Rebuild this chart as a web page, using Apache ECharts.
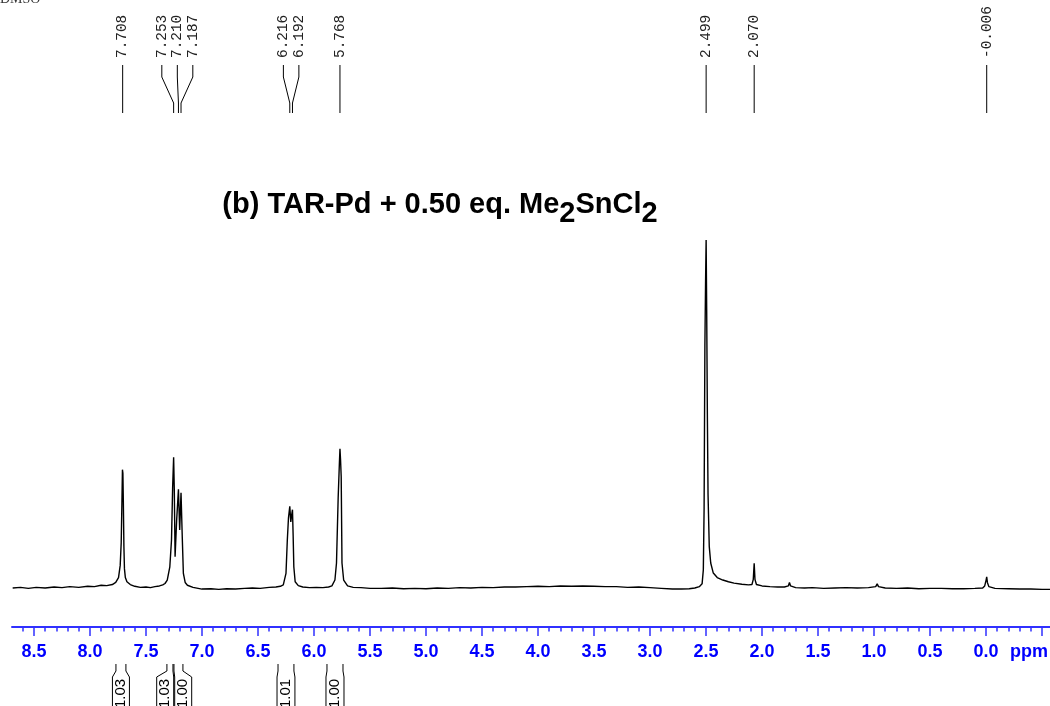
<!DOCTYPE html>
<html>
<head>
<meta charset="utf-8">
<script src="https://cdn.jsdelivr.net/npm/echarts@6/dist/echarts.min.js"></script>
<style>
  html, body { margin: 0; padding: 0; background: #fff; }
  #chart { width: 1050px; height: 706px; }
</style>
</head>
<body>
<div id="chart"></div>
<script>
// 1H NMR spectrum in DMSO-d6: TAR-Pd + 0.50 eq. Me2SnCl2
// Spectrum trace as [chemical shift (ppm), relative intensity (% of tallest line)]
const spectrum = [
  [8.69, 0.0], [8.62, 0.2], [8.55, -0.1], [8.48, 0.2], [8.40, 0.0], [8.32, 0.3], [8.25, 0.1],
  [8.18, 0.4], [8.10, 0.2], [8.02, 0.5], [7.96, 0.4], [7.90, 0.8], [7.85, 0.7], [7.80, 1.0],
  [7.77, 1.6], [7.745, 3.0], [7.730, 6.5], [7.721, 13], [7.715, 24], [7.710, 34], [7.706, 33],
  [7.702, 25], [7.697, 12], [7.692, 5.5], [7.684, 3.0], [7.67, 1.8], [7.64, 1.0],
  [7.60, 0.5], [7.55, 0.2], [7.50, 0.3], [7.46, 0.1], [7.42, 0.4], [7.38, 0.6], [7.35, 0.9], [7.33, 1.3],
  [7.31, 2.3], [7.287, 6.1], [7.272, 13.8], [7.262, 28.7], [7.253, 37.6], [7.247, 28], [7.240, 9.0],
  [7.226, 19.5], [7.210, 28.4], [7.199, 16.7], [7.187, 27.4], [7.176, 14.7], [7.166, 4.2],
  [7.15, 1.6], [7.13, 0.8],
  [7.08, 0.2], [7.00, -0.3], [6.92, -0.2], [6.85, -0.4], [6.78, -0.2], [6.70, -0.3], [6.62, -0.1],
  [6.55, 0.0], [6.48, -0.1], [6.40, 0.2], [6.34, 0.3],
  [6.30, 0.5], [6.274, 0.9], [6.25, 4.2], [6.238, 13.8], [6.228, 20], [6.216, 23.5], [6.207, 19],
  [6.199, 21], [6.192, 22.5], [6.186, 15], [6.180, 6.1], [6.168, 1.8], [6.14, 0.7],
  [6.10, 0.3], [6.04, 0.1], [5.98, 0.2], [5.92, 0.1], [5.87, 0.3],
  [5.84, 0.6], [5.813, 2.3], [5.799, 7.2], [5.784, 26], [5.773, 36], [5.768, 40], [5.763, 37],
  [5.757, 32], [5.750, 7.2], [5.735, 2.3], [5.70, 0.6], [5.65, 0.2],
  [5.58, 0.1], [5.50, -0.1], [5.40, -0.1], [5.30, 0.0], [5.20, -0.2], [5.10, -0.1], [5.00, -0.2],
  [4.90, 0.0], [4.80, -0.1], [4.70, 0.1], [4.60, 0.0], [4.50, 0.2], [4.40, 0.1], [4.30, 0.3],
  [4.20, 0.3], [4.10, 0.4], [4.00, 0.5], [3.90, 0.4], [3.80, 0.6], [3.70, 0.5], [3.60, 0.6],
  [3.50, 0.5], [3.40, 0.4], [3.30, 0.4], [3.20, 0.2], [3.10, 0.3], [3.00, 0.1], [2.90, -0.1],
  [2.80, -0.3], [2.72, -0.3], [2.65, -0.2], [2.60, 0.0],
  [2.56, 0.4], [2.535, 1.2], [2.524, 5.2], [2.517, 23], [2.510, 70], [2.504, 88], [2.499, 100],
  [2.494, 80], [2.488, 50], [2.482, 27], [2.471, 11.9], [2.458, 7.2], [2.435, 4.3], [2.40, 3.0],
  [2.35, 2.3], [2.30, 1.8], [2.25, 1.4], [2.18, 1.1], [2.12, 0.9],
  [2.09, 1.0], [2.078, 2.5], [2.070, 7.1], [2.063, 2.5], [2.05, 1.0], [2.00, 0.6], [1.93, 0.4],
  [1.86, 0.3], [1.80, 0.3],
  [1.765, 0.6], [1.755, 1.6], [1.745, 0.6], [1.70, 0.1], [1.62, 0.0], [1.55, 0.1], [1.45, -0.1],
  [1.35, 0.0], [1.25, 0.1], [1.15, 0.0], [1.05, 0.1],
  [0.985, 0.4], [0.972, 1.2], [0.96, 0.4], [0.90, 0.0], [0.80, -0.1], [0.70, 0.0], [0.60, -0.2],
  [0.50, -0.1], [0.40, -0.1], [0.30, -0.2], [0.20, -0.2], [0.10, -0.1], [0.03, 0.0],
  [0.012, 0.6], [0.000, 2.2], [-0.006, 3.2], [-0.012, 1.6], [-0.025, 0.4], [-0.08, -0.1],
  [-0.20, -0.2], [-0.30, -0.3], [-0.40, -0.3], [-0.50, -0.4], [-0.571, -0.4]
];

// Peak picking (ppm)
const peakShifts = [7.708, 7.253, 7.210, 7.187, 6.216, 6.192, 5.768, 2.499, 2.070, -0.006];

// Integration regions (ppm) and normalised integrals
const integralFrom = [7.768, 7.313, 7.250, 6.321, 5.884];
const integralTo = [7.679, 7.259, 7.170, 6.179, 5.741];
const integralValues = [1.03, 1.03, 1.00, 1.01, 1.00];

// Shift axis labels
const tickLabels = ['8.5', '8.0', '7.5', '7.0', '6.5', '6.0', '5.5', '5.0', '4.5', '4.0',
                    '3.5', '3.0', '2.5', '2.0', '1.5', '1.0', '0.5', '0.0'];

const AXIS_BLUE = '#3030ff';
const LABEL_BLUE = '#0000ff';
const X_MIN = -0.571, X_MAX = 8.696;

const majorTicks = [];
for (let k = -1; k <= 17; k++) majorTicks.push(k / 2);
const minorTicks = [];
for (let k = -5; k <= 86; k++) minorTicks.push(k / 10);

// Spread labels of closely spaced peaks around their cluster centre
const LABEL_GAP = 15.5;
function peakLabelXs(api) {
  const px = peakShifts.map(s => api.coord([s, 0])[0]);
  const xs = px.slice();
  let i = 0;
  while (i < px.length) {
    let j = i;
    while (j + 1 < px.length && Math.abs(px[j + 1] - px[j]) < LABEL_GAP) j++;
    const n = j - i + 1;
    const centre = (px[i] + px[j]) / 2;
    for (let k = i; k <= j; k++) xs[k] = centre + (k - i - (n - 1) / 2) * LABEL_GAP;
    i = j + 1;
  }
  return { px, xs };
}

// Integral label boxes: at least BOX_MIN wide, pushed apart when neighbours overlap
const BOX_MIN = 17;
function integralBoxes(api) {
  const boxes = integralFrom.map((f, i) => {
    const a = api.coord([f, 0])[0];
    const b = api.coord([integralTo[i], 0])[0];
    const c = (a + b) / 2;
    const w = Math.max(b - a + 2, BOX_MIN);
    return { a, b, l: c - w / 2, r: c + w / 2 };
  });
  for (let k = 0; k + 1 < boxes.length; k++) {
    const over = boxes[k].r + 1 - boxes[k + 1].l;
    if (over > 0) {
      boxes[k].l -= over / 2; boxes[k].r -= over / 2;
      boxes[k + 1].l += over / 2; boxes[k + 1].r += over / 2;
    }
  }
  return boxes;
}

const TITLE_FONT = '"Liberation Sans", Arial, sans-serif';

const chart = echarts.init(document.getElementById('chart'), null, { renderer: 'canvas' });

chart.setOption({
  animation: false,
  backgroundColor: '#ffffff',
  grid: { left: 12, right: 0, top: 240, bottom: 79, containLabel: false },
  xAxis: [
    {
      type: 'value', inverse: true, min: X_MIN, max: X_MAX, position: 'bottom', offset: 0,
      axisLine: { show: true, onZero: false, lineStyle: { color: AXIS_BLUE, width: 2 } },
      axisTick: { show: true, customValues: minorTicks, length: 4.5, lineStyle: { color: AXIS_BLUE, width: 1.5 } },
      axisLabel: { show: false },
      splitLine: { show: false }
    },
    {
      type: 'value', inverse: true, min: X_MIN, max: X_MAX, position: 'bottom', offset: 0,
      axisLine: { show: false, onZero: false },
      axisTick: { show: true, customValues: majorTicks, length: 9, lineStyle: { color: AXIS_BLUE, width: 1.5 } },
      axisLabel: {
        show: true,
        customValues: tickLabels.map(Number),
        formatter: v => v.toFixed(1),
        color: LABEL_BLUE, fontWeight: 'bold', fontSize: 18,
        fontFamily: TITLE_FONT, margin: 16
      },
      splitLine: { show: false }
    }
  ],
  yAxis: { type: 'value', show: false, min: -11.2, max: 100 },
  series: [
    {
      type: 'line',
      xAxisIndex: 0,
      data: spectrum,
      showSymbol: false,
      clip: false,
      lineStyle: { color: '#000', width: 1.4 },
      silent: true
    },
    {
      type: 'custom',
      xAxisIndex: 0,
      silent: true,
      data: peakShifts.map(s => [s, 0]),
      renderItem(params, api) {
        const i = params.dataIndex;
        const { px, xs } = peakLabelXs(api);
        const xp = px[i], xl = xs[i];
        return {
          type: 'group',
          children: [
            {
              type: 'text', x: xl, y: 58, rotation: Math.PI / 2,
              style: {
                text: peakShifts[i].toFixed(3), fill: '#222',
                font: '14.4px "Liberation Mono", "DejaVu Sans Mono", monospace',
                align: 'left', verticalAlign: 'middle'
              }
            },
            {
              type: 'polyline',
              shape: { points: [[xl, 65], [xl, 77], [xp, 103], [xp, 113]] },
              style: { stroke: '#000', lineWidth: 1, fill: null }
            }
          ]
        };
      }
    },
    {
      type: 'custom',
      xAxisIndex: 0,
      silent: true,
      data: integralValues.map((v, i) => [integralFrom[i], 0]),
      renderItem(params, api) {
        const i = params.dataIndex;
        const bx = integralBoxes(api)[i];
        return {
          type: 'group',
          children: [
            {
              type: 'polyline',
              shape: { points: [[bx.a, 664], [bx.a, 671], [bx.l, 677], [bx.l, 712]] },
              style: { stroke: '#000', lineWidth: 1, fill: null }
            },
            {
              type: 'polyline',
              shape: { points: [[bx.b, 664], [bx.b, 671], [bx.r, 677], [bx.r, 712]] },
              style: { stroke: '#000', lineWidth: 1, fill: null }
            },
            {
              type: 'text', x: (bx.l + bx.r) / 2, y: 708, rotation: Math.PI / 2,
              style: {
                text: integralValues[i].toFixed(2), fill: '#000',
                font: '15px "Liberation Sans", Arial, sans-serif',
                align: 'left', verticalAlign: 'middle'
              }
            }
          ]
        };
      }
    }
  ],
  graphic: [
    {
      type: 'text', x: 440, y: 190, silent: true,
      style: {
        text: '{n|(b) TAR-Pd + 0.50 eq. Me}{s|2}{n|SnCl}{s|2}',
        align: 'center', verticalAlign: 'top',
        rich: {
          n: { fontSize: 29, fontWeight: 'bold', fontFamily: TITLE_FONT, fill: '#000', verticalAlign: 'top', lineHeight: 30 },
          s: { fontSize: 29, fontWeight: 'bold', fontFamily: TITLE_FONT, fill: '#000', verticalAlign: 'top', lineHeight: 30, padding: [9, 0, 0, 0] }
        }
      }
    },
    {
      type: 'text', x: 1048, y: 643, silent: true,
      style: {
        text: 'ppm', align: 'right', verticalAlign: 'top',
        font: 'bold 18px "Liberation Sans", Arial, sans-serif', fill: LABEL_BLUE
      }
    },
    {
      type: 'text', x: 0, y: -1, silent: true,
      style: {
        text: 'DMSO', align: 'left', verticalAlign: 'middle',
        font: '14px "Liberation Serif", "Times New Roman", serif', fill: '#333'
      }
    }
  ]
});
</script>
</body>
</html>
